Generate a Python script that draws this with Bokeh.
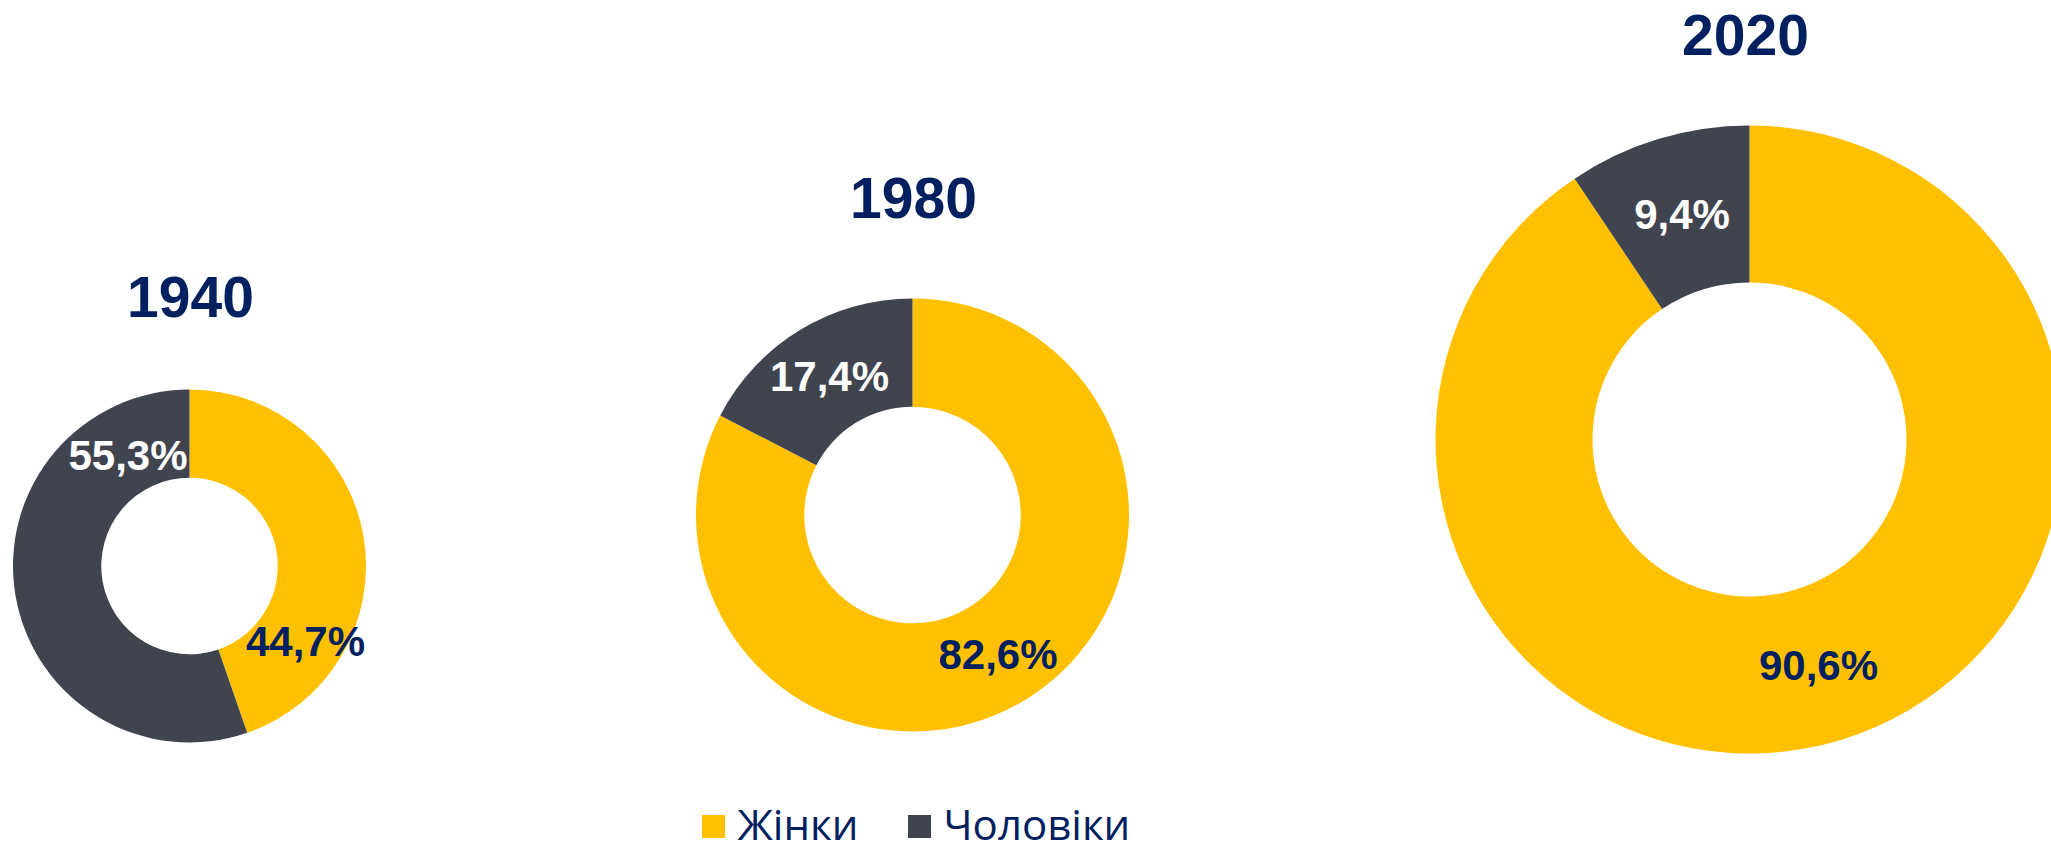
import math
from bokeh.plotting import figure
from bokeh.models import Range1d, ColumnDataSource
from bokeh.core.properties import value
from bokeh.embed import file_html
from bokeh.resources import INLINE

# ---- data ----
years = ["1940", "1980", "2020"]
women = [44.7, 82.6, 90.6]
men = [55.3, 17.4, 9.4]
series_names = ["Жінки", "Чоловіки"]

# ---- style / layout ----
YELLOW = "#FFC000"
DARK = "#40444F"
NAVY = "#002060"
W, H = 2051, 851
PAGE_H = 851
K = 0.37  # baseline correction (fraction of font size)

cx = [189, 912, 1749]
cy = [565.5, 514.5, 439]
r_out = [176.5, 216.5, 314]
hole = 0.5
TITLE_FS, LABEL_FS, LEG_FS = 57, 42, 42
title_x = [190, 913, 1745]
title_base = [318, 219, 56]
women_lab_pos = [(305, 657), (997.5, 670), (1818, 681)]
men_lab_pos = [(127.5, 471), (829, 392), (1681.5, 230)]


def Y(y, fs=0):
    return PAGE_H - (y - K * fs)


def fmt(v):
    return f"{v:.1f}".replace(".", ",") + "%"


p = figure(width=W, height=H, x_range=Range1d(0, W),
           y_range=Range1d(0, H),
           output_backend="svg", toolbar_location=None, min_border=0)
p.axis.visible = False
p.grid.visible = False
p.outline_line_color = None
p.background_fill_color = "white"
p.border_fill_color = "white"

# wedges
wx, wy, ri, ro, sa, ea, col = [], [], [], [], [], [], []
for i in range(len(years)):
    theta = 2 * math.pi * women[i] / (women[i] + men[i])
    start = math.pi / 2
    # women
    wx.append(cx[i]); wy.append(Y(cy[i])); ri.append(r_out[i] * hole); ro.append(r_out[i])
    sa.append(start); ea.append(start - theta); col.append(YELLOW)
    # men
    wx.append(cx[i]); wy.append(Y(cy[i])); ri.append(r_out[i] * hole); ro.append(r_out[i])
    sa.append(start - theta); ea.append(start - 2 * math.pi); col.append(DARK)

src = ColumnDataSource(dict(x=wx, y=wy, ri=ri, ro=ro, sa=sa, ea=ea, c=col))
p.annular_wedge(x="x", y="y", inner_radius="ri", outer_radius="ro",
                start_angle="sa", end_angle="ea", direction="clock",
                fill_color="c", line_color=None, source=src)

# titles
p.text(x=title_x, y=[Y(b, TITLE_FS) for b in title_base], text=years,
       text_font=value("Liberation Sans"), text_font_style="bold",
       text_font_size=f"{TITLE_FS}px", text_color=NAVY,
       text_align="center", text_baseline="alphabetic")

# value labels
p.text(x=[pp[0] for pp in women_lab_pos], y=[Y(pp[1], LABEL_FS) for pp in women_lab_pos],
       text=[fmt(v) for v in women],
       text_font=value("Liberation Sans"), text_font_style="bold",
       text_font_size=f"{LABEL_FS}px", text_color=NAVY,
       text_align="center", text_baseline="alphabetic")
p.text(x=[pp[0] for pp in men_lab_pos], y=[Y(pp[1], LABEL_FS) for pp in men_lab_pos],
       text=[fmt(v) for v in men],
       text_font=value("Liberation Sans"), text_font_style="bold",
       text_font_size=f"{LABEL_FS}px", text_color="white",
       text_align="center", text_baseline="alphabetic")

# legend
leg_sq_x = [713, 919]
leg_txt_x = [737, 943]
p.rect(x=leg_sq_x, y=[Y(826)] * 2, width=23, height=23,
       fill_color=[YELLOW, DARK], line_color=None)
p.text(x=leg_txt_x, y=[Y(839, LEG_FS)] * 2, text=series_names,
       text_font=value("Open Sans"), text_font_size=f"{LEG_FS}px", text_color=NAVY,
       text_align="left", text_baseline="alphabetic")

open("out.html", "w").write(file_html(p, INLINE))
